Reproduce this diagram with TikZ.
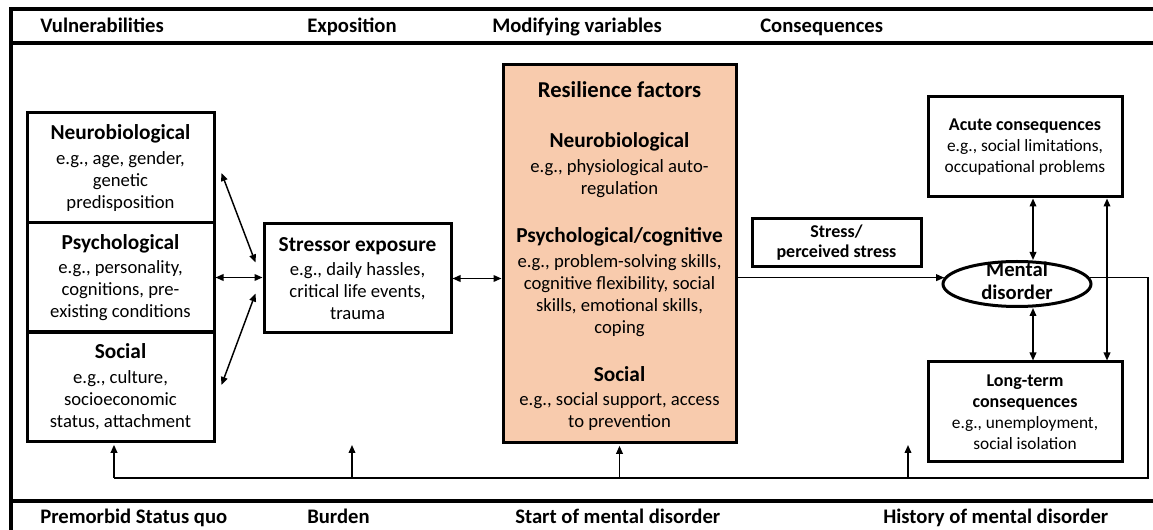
\documentclass[tikz,border=0pt]{standalone}
\usepackage{fontspec}
\setmainfont{Carlito}
\usetikzlibrary{arrows.meta,calc,shapes.geometric}
\definecolor{resfill}{HTML}{F8CBAD}
\newcommand\pxu{0.75pt}
\newcommand\hdtext[1]{{\bfseries\fontsize{16}{19}\selectfont #1}}
\newcommand\hdsmall[1]{{\bfseries\fontsize{13.5}{16}\selectfont #1}}
\tikzset{
  box/.style={draw, line width=2.25pt, align=center, inner sep=0pt,
    font=\fontsize{14}{16.5}\selectfont},
  smallbox/.style={box, font=\fontsize{13}{15.75}\selectfont},
  bodytext/.style={align=center, inner sep=0pt, font=\fontsize{14}{16.5}\selectfont},
  conn/.style={line width=1.1pt},
  dbl/.style={conn, {Triangle[length=6pt,width=5pt]}-{Triangle[length=6pt,width=5pt]}},
  sgl/.style={conn, -{Triangle[length=6pt,width=5pt]}},
  frameline/.style={line width=3pt},
  lab/.style={anchor=base west, inner sep=0pt, font=\bfseries\fontsize{15.5}{18}\selectfont},
}
\begin{document}
\begin{tikzpicture}[x=0.75pt,y=-0.75pt]
\useasboundingbox (0,0) rectangle (1153,530);

% frame
\draw[frameline] (1153,9) -- (11,9) -- (11,530);
\draw[frameline] (11,43) -- (1153,43);
\draw[frameline] (11,501) -- (1153,501);

% header and footer labels
\node[lab] (hv) at (40,32.5) {Vulnerabilities};
\node[lab] (he) at (307,32.5) {Exposition};
\node[lab] (hm) at (492,32.5) {Modifying variables};
\node[lab] (hc) at (760,32.5) {Consequences};
\node[lab] (fp) at (40,523) {Premorbid Status quo};
\node[lab] (fb) at (307,523) {Burden};
\node[lab] (fs) at (515,523) {Start of mental disorder};
\node[lab] (fh) at (883,523) {History of mental disorder};

% vulnerabilities
\node[box, minimum width=187*\pxu, minimum height=110*\pxu] (neuro) at (120.5,168)
  {\hdtext{Neurobiological}\\[2pt]e.g., age, gender,\\genetic\\predisposition};
\node[box, minimum width=187*\pxu, minimum height=110*\pxu] (psych) at (120.5,277.5)
  {\hdtext{Psychological}\\[2pt]e.g., personality,\\cognitions, pre-\\existing conditions};
\node[box, minimum width=187*\pxu, minimum height=110*\pxu] (social) at (120.5,387)
  {\hdtext{Social}\\[2pt]e.g., culture,\\socioeconomic\\status, attachment};

% stressor
\node[box, minimum width=187*\pxu, minimum height=109*\pxu] (stressor) at (357.5,278.5)
  {\hdtext{Stressor exposure}\\[2pt]e.g., daily hassles,\\critical life events,\\trauma};

% resilience
\node[box, fill=resfill, minimum width=233*\pxu, minimum height=378*\pxu] (res) at (619.5,254) {};
\node[inner sep=0pt, font=\bfseries\fontsize{17}{20}\selectfont] (rtitle) at (619.5,90) {Resilience factors};
\node[bodytext] (rneuro) at (619.5,165)
  {\hdtext{Neurobiological}\\[2pt]e.g., physiological auto-\\regulation};
\node[bodytext] (rpsych) at (619.5,282)
  {\hdtext{Psychological/cognitive}\\[2pt]e.g., problem-solving skills,\\cognitive flexibility, social\\skills, emotional skills,\\coping};
\node[bodytext] (rsocial) at (619.5,398.5)
  {\hdtext{Social}\\[2pt]e.g., social support, access\\to prevention};

% stress
\node[box, minimum width=169*\pxu, minimum height=48*\pxu,
  font=\bfseries\fontsize{13.5}{15}\selectfont] (stress) at (836.5,242.5)
  {Stress/\\perceived stress};

% mental disorder
\node[draw, ellipse, line width=2.25pt, inner sep=0pt,
  minimum width=148*\pxu, minimum height=45*\pxu] (mental) at (1017,284) {};
\node[align=center, inner sep=0pt, font=\bfseries\fontsize{15.5}{17}\selectfont] (mentaltext) at (1017,280.5)
  {Mental\\disorder};

% consequences
\node[smallbox, minimum width=194*\pxu, minimum height=100*\pxu] (acute) at (1025,147)
  {\hdsmall{Acute consequences}\\e.g., social limitations,\\occupational problems};
\node[smallbox, minimum width=194*\pxu, minimum height=100*\pxu] (longterm) at (1025,412)
  {\hdsmall{Long-term}\\\hdsmall{consequences}\\e.g., unemployment,\\social isolation};

% connectors left
\draw[dbl] ($(neuro.east)+(6,5)$) -- ($(stressor.west)+(-7,-16)$);
\draw[dbl] (psych.east) -- (psych.east -| stressor.west);
\draw[dbl] ($(social.east)+(6,-2)$) -- ($(stressor.west)+(-7,15)$);
\draw[dbl] (stressor.east) -- (stressor.east -| res.west);

% to mental disorder
\draw[sgl] (res.east |- mental.175) -- (mental.175);

% consequences arrows
\coordinate (ax) at ($(acute.south)+(8,0)$);
\coordinate (lx) at ($(longterm.north)+(8,0)$);
\coordinate (rx) at ($(acute.south)+(82,0)$);
\draw[dbl] (ax) -- (ax |- mental.north);
\draw[dbl] (lx) -- (lx |- mental.south);
\draw[dbl] (rx) -- (rx |- longterm.north);

% feedback loop
\coordinate (fbcorner) at (1148,478);
\coordinate (fbleft) at (114,478);
\coordinate (burdentip) at (352,445);
\coordinate (histtip) at (908,445);
\draw[conn] (mental.5) -- (mental.5 -| fbcorner) -- (fbcorner) -- (fbleft);
\draw[sgl, shorten >=1pt] (fbleft) -- (fbleft |- social.south);
\draw[sgl] (burdentip |- fbleft) -- (burdentip);
\draw[sgl, shorten >=1pt] (res.south |- fbleft) -- (res.south);
\draw[sgl] (histtip |- fbleft) -- (histtip);
\end{tikzpicture}
\end{document}
